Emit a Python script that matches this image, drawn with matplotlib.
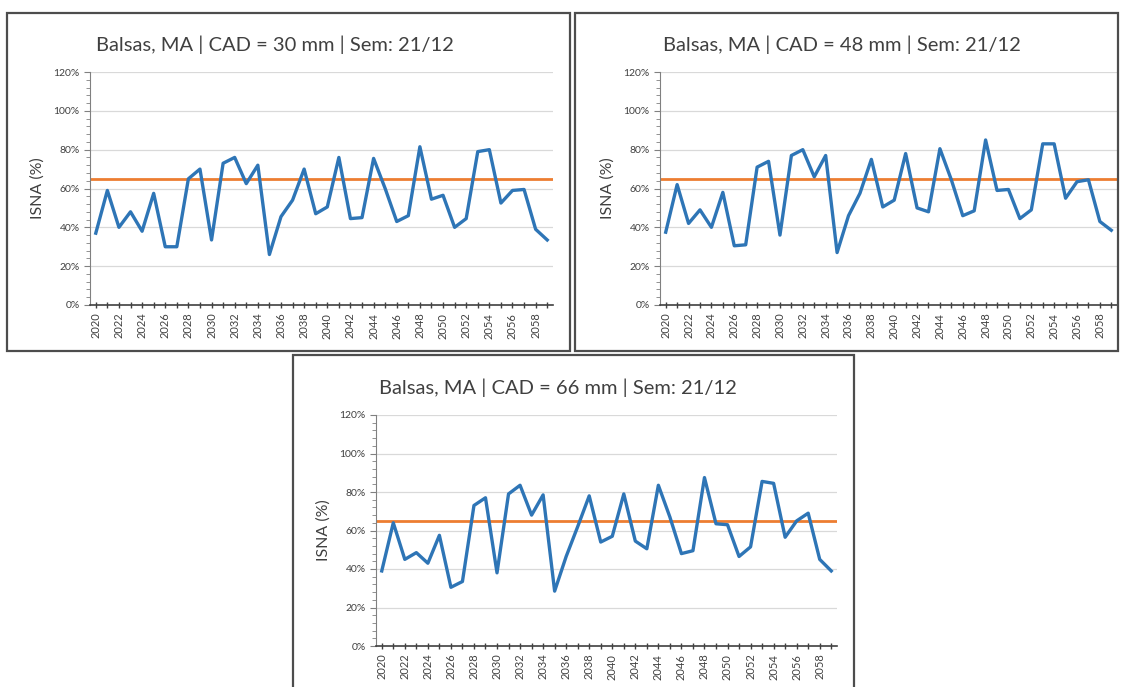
import matplotlib.pyplot as plt
from matplotlib.patches import Rectangle
from matplotlib.ticker import MultipleLocator, FuncFormatter

## data
years = list(range(2020, 2060))
isna_30 = [37, 59, 40, 48, 38, 57.5, 30, 30, 65, 70,
           33.5, 73, 76, 62.5, 72, 26, 45.5, 54, 70, 47,
           50.5, 76, 44.5, 45, 75.5, 60, 43, 46, 81.5, 54.5,
           56.5, 40, 44.5, 79, 80, 52.5, 59, 59.5, 39, 33.5]
isna_48 = [37.5, 62, 42, 49, 40, 58, 30.5, 31, 71, 74,
           36, 77, 80, 66, 77, 27, 46, 57.5, 75, 50.5,
           54, 78, 50, 48, 80.5, 64.5, 46, 48.5, 85, 59,
           59.5, 44.5, 49, 83, 83, 55, 63.5, 64.5, 43, 38.5]
isna_66 = [39, 64, 45, 48.5, 43, 57.5, 30.5, 33.5, 73, 77,
           38, 79, 83.5, 68, 78.5, 28.5, 46.5, 62, 78, 54,
           57, 79, 54.5, 50.5, 83.5, 67, 48, 49.5, 87.5, 63.5,
           63, 46.5, 51.5, 85.5, 84.5, 56.5, 65, 69, 45, 39]
limiar = 65
cads = [30, 48, 66]
series = [isna_30, isna_48, isna_66]

W, H = 1124, 687
fig = plt.figure(figsize=(W / 100, H / 100), dpi=100)
plt.rcParams['font.family'] = ['Lato', 'DejaVu Sans']

def fig_box(x0, y0, x1, y1):
    # pixel box (top-left origin) -> figure fraction
    return [x0 / W, 1 - y1 / H, (x1 - x0) / W, (y1 - y0) / H]

# frames and plot areas in pixels
frames = [(7, 13, 570, 351), (575, 13, 1118, 351), (293, 355, 854, 700)]
plots = [(90, 72, 553, 305), (660, 72, 1117, 305), (376, 415, 837, 646)]
title_xy = [(275, 45), (842, 45), (558, 388)]

for (fx0, fy0, fx1, fy1), (px0, py0, px1, py1), (tx, ty), cad, vals in zip(
        frames, plots, title_xy, cads, series):
    b = fig_box(fx0, fy0, fx1, fy1)
    fig.patches.append(Rectangle((b[0], b[1]), b[2], b[3], transform=fig.transFigure,
                                 fill=False, edgecolor='#4d4d4d', lw=1.6))
    ax = fig.add_axes(fig_box(px0, py0, px1, py1))
    ax.plot(years, vals, color='#2e75b6', lw=2.4, zorder=3)
    ax.plot([years[0] - 0.5, years[-1] + 0.5], [limiar, limiar], color='#ed7d31', lw=2, zorder=2)
    ax.set_xlim(years[0] - 0.5, years[-1] + 0.5)
    ax.set_ylim(0, 120)
    ax.yaxis.set_major_locator(MultipleLocator(20))
    ax.yaxis.set_minor_locator(MultipleLocator(4))
    ax.yaxis.set_major_formatter(FuncFormatter(lambda v, p: '%d%%' % v))
    ax.set_xticks(years)
    ax.set_xticklabels([str(y) if y % 2 == 0 else '' for y in years], rotation=90, fontsize=8, color='#404040')
    ax.tick_params(axis='x', direction='inout', length=5, width=1, color='#404040', pad=3)
    ax.tick_params(axis='y', which='major', direction='out', length=4, color='#808080', labelsize=7.5, labelcolor='#404040')
    ax.tick_params(axis='y', which='minor', direction='out', length=3, color='#808080')
    ax.grid(axis='y', color='#d9d9d9', lw=0.9)
    ax.set_axisbelow(True)
    for s in ['top', 'right']:
        ax.spines[s].set_visible(False)
    ax.spines['left'].set_color('#808080')
    ax.spines['bottom'].set_color('#404040')
    ax.spines['bottom'].set_linewidth(1.2)
    ax.set_ylabel('ISNA (%)', fontsize=11.5, color='#404040', labelpad=6)
    fig.text(tx / W, 1 - ty / H, 'Balsas, MA | CAD = %d mm | Sem: 21/12' % cad,
             ha='center', va='center', fontsize=14.5, color='#404040')

fig.savefig('out.png', dpi=100)
